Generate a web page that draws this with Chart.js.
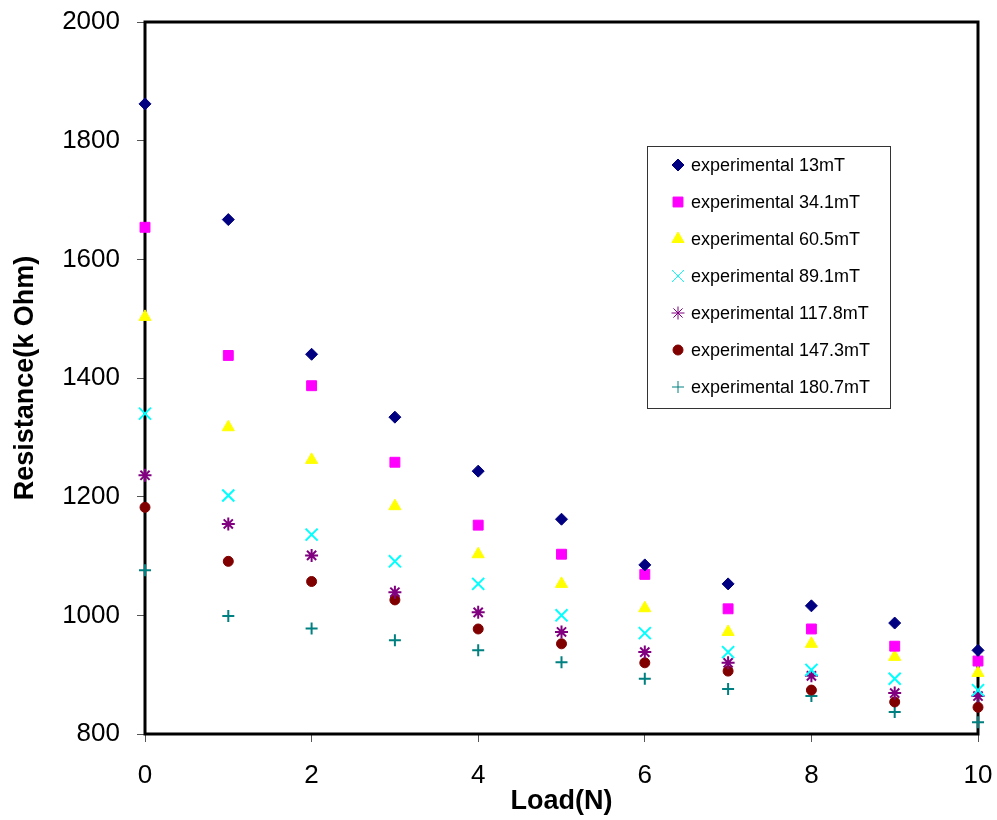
<!DOCTYPE html>
<html>
<head>
<meta charset="utf-8">
<script src="https://cdn.jsdelivr.net/npm/chart.js@4.4.0/dist/chart.umd.min.js"></script>
<style>
  html, body { margin: 0; padding: 0; background: #fff; }
  #wrap { width: 997px; height: 820px; }
</style>
</head>
<body>
<div id="wrap"><canvas id="resChart" width="997" height="820"></canvas></div>
<script>
/* Resistance vs load — scatter, one series per field strength */
const loads = [0, 1, 2, 3, 4, 5, 6, 7, 8, 9, 10];
const res13 = [1862, 1667, 1440, 1334, 1243, 1162, 1085, 1053, 1016, 987, 941];
const res34 = [1654, 1438, 1387, 1258, 1152, 1103, 1069, 1011, 977, 948, 923];
const res60 = [1503, 1317, 1262, 1184, 1103, 1053, 1012, 972, 952, 930, 903];
const res89 = [1340, 1202, 1136, 1091, 1053, 1000, 970, 938, 908, 893, 874];
const res117 = [1236, 1154, 1101, 1039, 1005, 972, 938, 920, 898, 869, 864];
const res147 = [1182, 1091, 1057, 1026, 977, 952, 920, 906, 874, 854, 845];
const res180 = [1076, 999, 978, 958, 941, 921, 893, 876, 864, 837, 820];
const xTicks = [0, 2, 4, 6, 8, 10];
const yTicks = [800, 1000, 1200, 1400, 1600, 1800, 2000];

const FONT = "Arial, 'Liberation Sans', sans-serif";

function pts(vals) {
  return vals.map((v, i) => ({ x: loads[i], y: v }));
}

function series(label, vals, color, style, radius, bw) {
  return {
    label,
    data: pts(vals),
    pointStyle: style,
    pointRadius: radius,
    pointHoverRadius: radius,
    pointBackgroundColor: color,
    pointBorderColor: color,
    pointBorderWidth: bw,
    showLine: false,
    clip: false,
  };
}

// ── Frame round the plot area ─────────────────────────────────────
const framePlugin = {
  id: 'frame',
  beforeDatasetsDraw(chart) {
    const { ctx, chartArea: a } = chart;
    ctx.save();
    ctx.strokeStyle = '#000';
    ctx.lineWidth = 3;
    ctx.strokeRect(a.left, a.top, a.right - a.left, a.bottom - a.top);
    ctx.restore();
  },
};

// ── Boxed legend inside the plot ──────────────────────────────────
const boxLegend = {
  id: 'boxLegend',
  afterDraw(chart) {
    const { ctx, chartArea: a } = chart;
    const left = a.left + 502, top = a.top + 124, w = 243, h = 262;
    ctx.save();
    ctx.fillStyle = '#fff';
    ctx.fillRect(left, top, w, h);
    ctx.strokeStyle = '#333';
    ctx.lineWidth = 1;
    ctx.strokeRect(left + 0.5, top + 0.5, w, h);
    ctx.font = '18px ' + FONT;
    ctx.textBaseline = 'middle';
    chart.data.datasets.forEach((ds, i) => {
      const y = top + 19 + i * 37;
      const mx = left + 31;
      ctx.fillStyle = ds.pointBackgroundColor;
      ctx.strokeStyle = ds.pointBorderColor;
      if (Chart.helpers && Chart.helpers.drawPoint) {
        Chart.helpers.drawPoint(ctx, {
          pointStyle: ds.pointStyle,
          radius: ds.pointRadius,
          borderWidth: ds.pointBorderWidth,
          rotation: 0,
        }, mx, y);
      }
      ctx.fillStyle = '#000';
      ctx.fillText(ds.label, left + 44, y + 1);
    });
    ctx.restore();
  },
};

new Chart(document.getElementById('resChart'), {
  type: 'scatter',
  data: {
    datasets: [
      series('experimental 13mT', res13, '#000080', 'rectRot', 6, 1),
      series('experimental 34.1mT', res34, '#FF00FF', 'rect', 7, 1),
      series('experimental 60.5mT', res60, '#FFFF00', 'triangle', 7, 1),
      series('experimental 89.1mT', res89, '#00FFFF', 'crossRot', 8.5, 2),
      series('experimental 117.8mT', res117, '#800080', 'star', 6.5, 2),
      series('experimental 147.3mT', res147, '#800000', 'circle', 5, 1),
      series('experimental 180.7mT', res180, '#008080', 'cross', 6, 2),
    ],
  },
  options: {
    responsive: false,
    animation: false,
    layout: { padding: { top: 22, right: 19, left: 0, bottom: 0 } },
    plugins: {
      legend: { display: false },
      tooltip: { enabled: false },
    },
    scales: {
      x: {
        type: 'linear',
        min: 0,
        max: 10,
        afterBuildTicks: (s) => { s.ticks = xTicks.map(v => ({ value: v })); },
        afterFit: (s) => { s.height = 86; s.paddingLeft = 0; s.paddingRight = 0; },
        grid: { drawOnChartArea: false, tickLength: 8, color: '#555' },
        border: { display: false },
        ticks: { color: '#000', font: { family: FONT, size: 26 }, padding: 18, maxRotation: 0 },
        title: {
          display: true,
          text: 'Load(N)',
          color: '#000',
          font: { family: FONT, size: 27, weight: 'bold' },
          padding: { top: 0, bottom: 2 },
        },
      },
      y: {
        type: 'linear',
        min: 800,
        max: 2000,
        afterBuildTicks: (s) => { s.ticks = yTicks.map(v => ({ value: v })); },
        afterFit: (s) => { s.width = 145; s.paddingTop = 0; s.paddingBottom = 0; },
        grid: { drawOnChartArea: false, tickLength: 8, color: '#555' },
        border: { display: false },
        ticks: {
          color: '#000',
          font: { family: FONT, size: 26 },
          padding: 17,
          callback: (v) => String(v),
        },
        title: {
          display: true,
          text: 'Resistance(k Ohm)',
          color: '#000',
          font: { family: FONT, size: 27, weight: 'bold' },
          padding: { top: 9, bottom: 0 },
        },
      },
    },
  },
  plugins: [framePlugin, boxLegend],
});
</script>
</body>
</html>
